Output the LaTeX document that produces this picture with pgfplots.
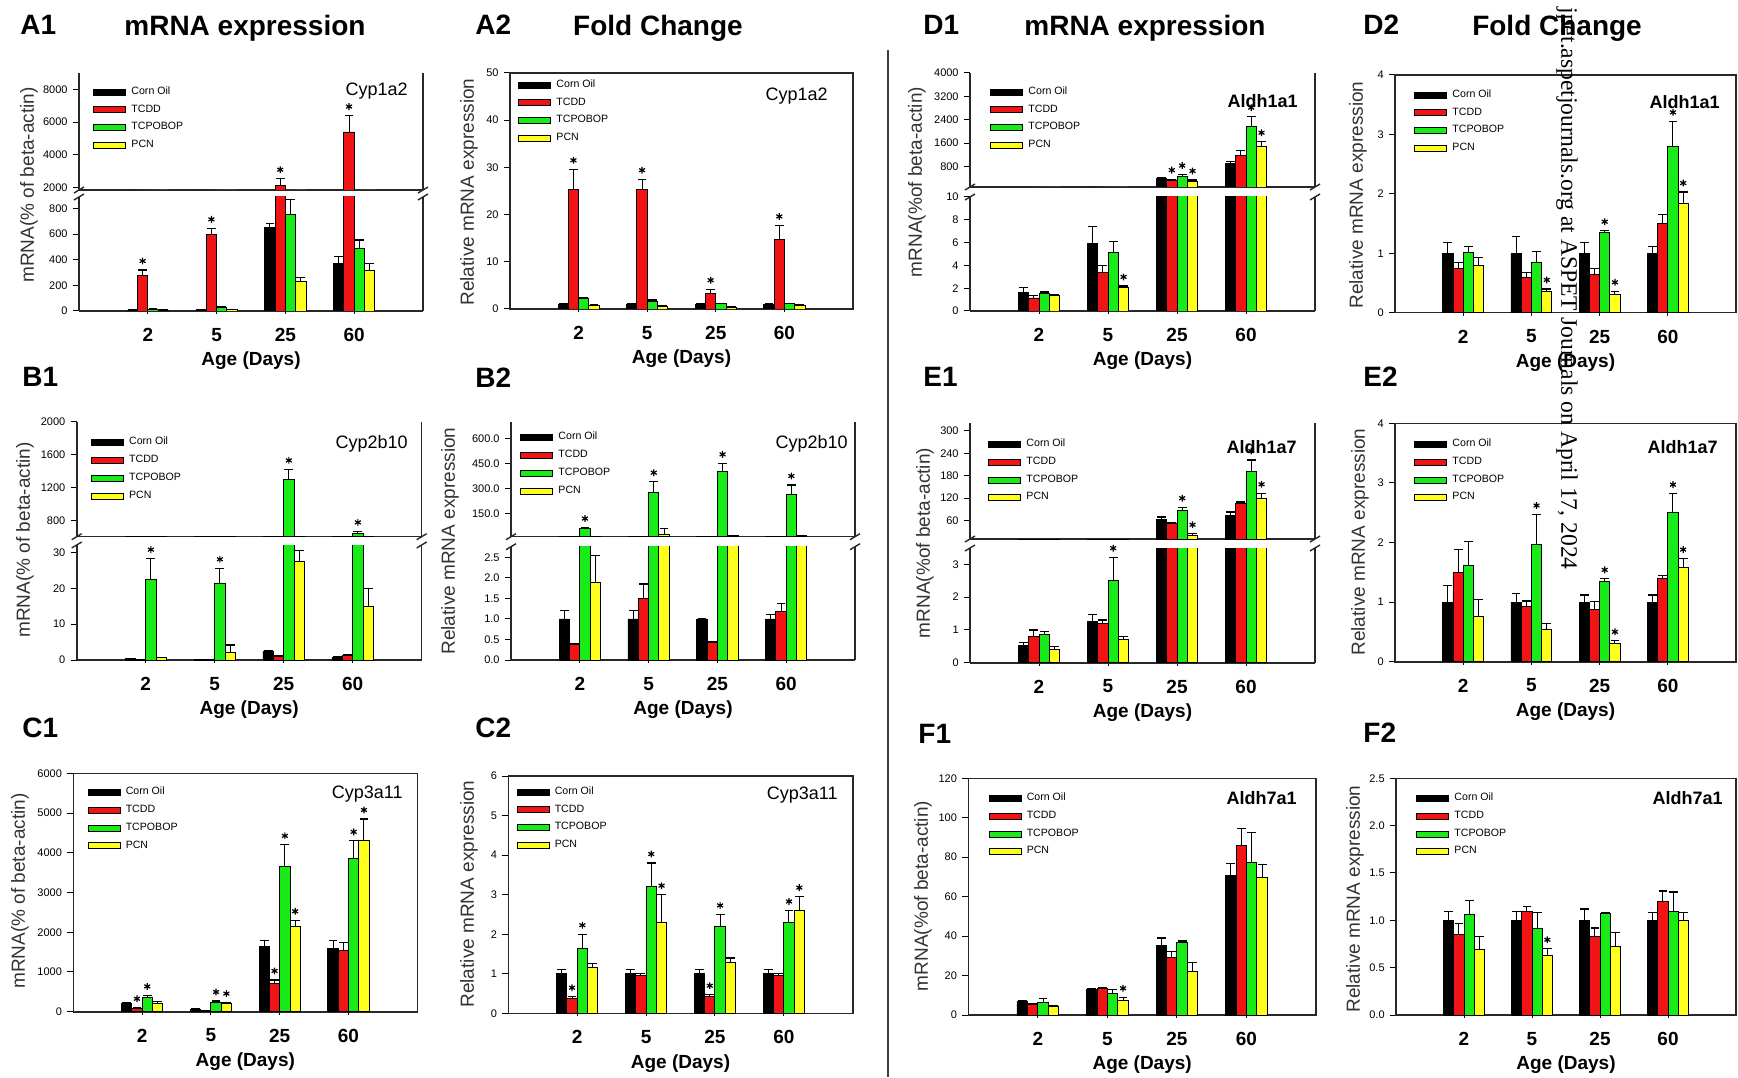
\documentclass[border=0pt]{standalone}
\usepackage{pgfplots}
\pgfplotsset{compat=1.18}
\usepackage{pgfplotstable}
\usepackage{fontspec}
\setmainfont{Liberation Sans}
\newfontfamily\wmfont{Liberation Serif}

\definecolor{bRed}{RGB}{240,20,20}
\definecolor{bGreen}{RGB}{25,235,25}
\definecolor{bYellow}{RGB}{255,255,30}
\definecolor{frm}{RGB}{40,40,40}

\pgfplotsset{
  /pgf/number format/assume math mode=true,
  /pgf/number format/1000 sep={},
  panel/.style={
    scale only axis, anchor=south west,
    xmin=0, xmax=5,
    xtick={1,2,3,4}, xticklabels={2,5,25,60},
    xtick pos=bottom, ytick pos=left,
    xtick align=center, ytick align=outside,
    major tick length=3pt,
    axis line style={line width=0.8pt, frm},
    tick style={black, line width=0.5pt},
    yticklabel style={font=\fontsize{5.5}{6}\selectfont, inner sep=1pt, xshift=-1.5pt},
    xticklabel style={font=\fontsize{9.5}{10}\selectfont\bfseries, yshift=-3.5pt},
    xlabel={Age (Days)},
    every axis x label/.style={at={(rel axis cs:0.5,0)}, anchor=center, yshift=-25pt, font=\fontsize{9.5}{10}\selectfont\bfseries},
    legend image code/.code={\draw[#1, draw=black, line width=0.4pt] (0pt,-1.5pt) rectangle (16pt,1.5pt); \path (18pt,0pt);},
    legend style={draw=none, fill=none, font=\fontsize{5.3}{6}\selectfont, inner sep=0pt, row sep=2.5pt, nodes={inner sep=0.6pt}, cells={anchor=west}, anchor=north west, at={(rel axis cs:0,1)}},
  },
  upper/.style={panel, xtick=\empty, xlabel={}, axis x line*=top, axis y line*=box, ytick pos=left},
  lower/.style={panel, axis x line*=bottom, axis y line*=box, ytick pos=left},
  leg/.style 2 args={legend entries={Corn Oil,TCDD,TCPOBOP,PCN}, legend style={xshift=#1*0.5pt, yshift=-#2*0.5pt+1pt}},
  bar/.style={ybar, bar width=0.15, draw=black, line width=0.45pt},
  eb/.style={draw=none, no markers, forget plot,
     error bars/y dir=plus, error bars/y explicit,
     error bars/error mark=none,
     error bars/error bar style={draw=black, line width=0.5pt, solid}},
  cap/.style={only marks, mark=-, mark size=2.2pt, forget plot, mark options={black, line width=0.6pt}},
  star/.style={only marks, mark=asterisk, mark size=1.7pt, forget plot, mark options={black, line width=0.6pt, yshift=4.5pt}},
}

\newcommand{\bars}[1]{%
  \addplot[bar, fill=black, bar shift=-0.225] table[x=x, y=co] {#1};
  \addplot[bar, fill=bRed, bar shift=-0.075] table[x=x, y=tc] {#1};
  \addplot[bar, fill=bGreen, bar shift=0.075] table[x=x, y=tp] {#1};
  \addplot[bar, fill=bYellow, bar shift=0.225] table[x=x, y=pc] {#1};
  \addplot[eb] table[x expr=\thisrow{x}-0.225, y=co, y error=coe] {#1};
  \addplot[eb] table[x expr=\thisrow{x}-0.075, y=tc, y error=tce] {#1};
  \addplot[eb] table[x expr=\thisrow{x}+0.075, y=tp, y error=tpe] {#1};
  \addplot[eb] table[x expr=\thisrow{x}+0.225, y=pc, y error=pce] {#1};
  \addplot[cap] table[x expr=\thisrow{x}-0.225, y expr=\thisrow{co}+\thisrow{coe}] {#1};
  \addplot[cap] table[x expr=\thisrow{x}-0.075, y expr=\thisrow{tc}+\thisrow{tce}] {#1};
  \addplot[cap] table[x expr=\thisrow{x}+0.075, y expr=\thisrow{tp}+\thisrow{tpe}] {#1};
  \addplot[cap] table[x expr=\thisrow{x}+0.225, y expr=\thisrow{pc}+\thisrow{pce}] {#1};
}
\newcommand{\brk}[2]{%
 \draw[frm,line width=0.7pt] ([shift={(-2.5pt,-1.5pt)}]#1.south west) -- ([shift={(2.5pt,1.5pt)}]#1.south west);
 \draw[frm,line width=0.7pt] ([shift={(-2.5pt,-1.5pt)}]#2.north west) -- ([shift={(2.5pt,1.5pt)}]#2.north west);
 \draw[frm,line width=0.7pt] ([shift={(-2.5pt,-1.5pt)}]#1.south east) -- ([shift={(2.5pt,1.5pt)}]#1.south east);
 \draw[frm,line width=0.7pt] ([shift={(-2.5pt,-1.5pt)}]#2.north east) -- ([shift={(2.5pt,1.5pt)}]#2.north east);
}

% A1 Cyp1a2 mRNA
\pgfplotstableread{
x co coe tc tce tp tpe pc pce
1 5 2 275 45 15 4 8 3
2 10 3 595 50 30 5 10 3
3 650 30 2150 400 750 120 230 30
4 370 55 5400 1000 485 70 320 50
}\tAa
% A2 Cyp1a2 fold
\pgfplotstableread{
x co coe tc tce tp tpe pc pce
1 1 0.05 25.3 4.3 2.2 0.3 0.8 0.1
2 1 0.05 25.3 2.2 1.7 0.2 0.6 0.1
3 1 0.05 3.2 1.0 1.1 0.1 0.4 0.05
4 1 0.05 14.8 2.9 1.1 0.1 0.8 0.1
}\tAb
% B1 Cyp2b10 mRNA
\pgfplotstableread{
x co coe tc tce tp tpe pc pce
1 0.3 0.1 0.1 0.05 22.5 5.8 0.6 0.2
2 0.1 0.05 0.1 0.05 21.5 4.1 2.0 2.2
3 2.5 0.2 1.0 0.2 1300 120 27.5 3
4 0.8 0.2 1.3 0.2 645 20 15 5
}\tBa
% B2 Cyp2b10 fold
\pgfplotstableread{
x co coe tc tce tp tpe pc pce
1 1.0 0.2 0.37 0.03 60 5 1.9 0.65
2 1.0 0.2 1.5 0.35 274 66 25 35
3 1.0 0.02 0.42 0.02 400 50 15 0
4 1.0 0.1 1.19 0.19 264 56 15 0
}\tBb
% C1 Cyp3a11 mRNA
\pgfplotstableread{
x co coe tc tce tp tpe pc pce
1 200 20 80 20 350 60 220 30
2 60 10 20 5 230 40 200 30
3 1650 150 700 100 3650 550 2150 150
4 1600 200 1550 200 3850 450 4300 550
}\tCa
% C2 Cyp3a11 fold
\pgfplotstableread{
x co coe tc tce tp tpe pc pce
1 1 0.1 0.37 0.05 1.65 0.35 1.15 0.1
2 1 0.1 0.95 0.05 3.2 0.6 2.3 0.7
3 1 0.1 0.42 0.05 2.2 0.3 1.28 0.12
4 1 0.1 0.95 0.05 2.3 0.3 2.6 0.35
}\tCb
% D1 Aldh1a1 mRNA
\pgfplotstableread{
x co coe tc tce tp tpe pc pce
1 1.64 0.4 1.14 0.24 1.52 0.15 1.35 0.1
2 5.96 1.45 3.42 0.6 5.12 1.0 2.05 0.15
3 400 30 340 30 476 50 300 40
4 910 50 1194 150 2186 320 1478 170
}\tDa
% D2 Aldh1a1 fold
\pgfplotstableread{
x co coe tc tce tp tpe pc pce
1 1.0 0.18 0.75 0.1 1.02 0.1 0.8 0.13
2 1.0 0.28 0.6 0.08 0.85 0.18 0.35 0.05
3 1.0 0.18 0.65 0.1 1.35 0.03 0.3 0.06
4 1.0 0.12 1.5 0.15 2.8 0.42 1.83 0.2
}\tDb
% E1 Aldh1a7 mRNA
\pgfplotstableread{
x co coe tc tce tp tpe pc pce
1 0.54 0.08 0.81 0.19 0.85 0.1 0.39 0.1
2 1.27 0.2 1.2 0.1 2.52 0.7 0.71 0.1
3 64 6 53 3 88 8 20 5
4 75 8 106 4 191 31 120 13
}\tEa
% E2 Aldh1a7 fold
\pgfplotstableread{
x co coe tc tce tp tpe pc pce
1 1.0 0.28 1.5 0.38 1.62 0.4 0.76 0.28
2 1.0 0.15 0.93 0.09 1.97 0.5 0.54 0.1
3 1.0 0.12 0.87 0.14 1.34 0.05 0.31 0.04
4 1.0 0.12 1.4 0.05 2.51 0.31 1.58 0.15
}\tEb
% F1 Aldh7a1 mRNA
\pgfplotstableread{
x co coe tc tce tp tpe pc pce
1 6.8 0.5 5.5 0.5 6.5 2 4.5 0.5
2 13 0.5 13.3 0.5 11 2 7.6 1.4
3 35.3 3.7 29.3 2.7 37 0.5 22 4.6
4 70.7 6.1 85.9 8.5 77.5 14.9 69.8 6.7
}\tFa
% F2 Aldh7a1 fold
\pgfplotstableread{
x co coe tc tce tp tpe pc pce
1 1.0 0.09 0.855 0.115 1.06 0.15 0.69 0.14
2 1.0 0.09 1.09 0.06 0.915 0.165 0.63 0.07
3 1.0 0.12 0.83 0.09 1.07 0.01 0.72 0.15
4 1.0 0.08 1.2 0.11 1.09 0.21 1.0 0.08
}\tFb

\begin{document}
\begin{tikzpicture}
\path[use as bounding box] (0,0) rectangle (869pt,538.5pt);

% ---------- A1 ----------
\begin{axis}[upper, name=A1u, at={(39.5pt,443.5pt)}, width=172pt, height=58.5pt,
  ymin=1860, ymax=9000, ytick={2000,4000,6000,8000}, leg={14}{14}]
\bars{\tAa}
\addplot[star] coordinates {(2.925,2550) (3.925,6400)};
\end{axis}
\begin{axis}[lower, name=A1l, at={(39.5pt,383pt)}, width=172pt, height=57pt,
  ymin=0, ymax=890, ytick={0,200,400,600,800}]
\bars{\tAa}
\addplot[star] coordinates {(0.925,320) (1.925,645)};
\end{axis}
\brk{A1u}{A1l}

% ---------- A2 ----------
\begin{axis}[panel, at={(255pt,384pt)}, width=171.5pt, height=118pt,
  ymin=0, ymax=50, ytick={0,10,20,30,40,50}, leg={8}{7}]
\bars{\tAb}
\addplot[star] coordinates {(0.925,29.6) (1.925,27.5) (2.925,4.2) (3.925,17.7)};
\end{axis}

% ---------- D1 ----------
\begin{axis}[upper, name=D1u, at={(485pt,445pt)}, width=172.5pt, height=57pt,
  ymin=100, ymax=4000, ytick={800,1600,2400,3200,4000}, leg={20}{14}]
\bars{\tDa}
\addplot[star] coordinates {(2.925,370) (3.075,526) (3.225,340) (4.075,2506) (4.225,1648)};
\end{axis}
\begin{axis}[lower, name=D1l, at={(485pt,383pt)}, width=172.5pt, height=57pt,
  ymin=0, ymax=10, ytick={0,2,4,6,8,10}]
\bars{\tDa}
\addplot[star] coordinates {(2.225,2.2)};
\end{axis}
\brk{D1u}{D1l}

% ---------- D2 ----------
\begin{axis}[panel, at={(697.5pt,382.15pt)}, width=170.5pt, height=118.85pt,
  ymin=0, ymax=4, ytick={0,1,2,3,4}, leg={19}{15}]
\bars{\tDb}
\addplot[star] coordinates {(2.225,0.4) (3.075,1.38) (3.225,0.36) (4.075,3.22) (4.225,2.03)};
\end{axis}

% ---------- B1 ----------
\begin{axis}[upper, name=B1u, at={(38.35pt,270.15pt)}, width=172.5pt, height=57.5pt,
  ymin=600, ymax=2000, ytick={800,1200,1600,2000}, leg={14}{16}]
\bars{\tBa}
\addplot[star] coordinates {(3.075,1420) (4.075,665)};
\end{axis}
\begin{axis}[lower, name=B1l, at={(38.35pt,208.5pt)}, width=172.5pt, height=57.5pt,
  ymin=0, ymax=32.1, ytick={0,10,20,30}]
\bars{\tBa}
\addplot[star] coordinates {(1.075,28.3) (2.075,25.6)};
\end{axis}
\brk{B1u}{B1l}

% ---------- B2 ----------
\begin{axis}[upper, name=B2u, at={(255.5pt,270.15pt)}, width=172pt, height=57.5pt,
  ymin=10, ymax=700, ytick={150,300,450,600},
  yticklabel style={/pgf/number format/.cd, fixed, fixed zerofill, precision=1}, leg={9}{11}]
\bars{\tBb}
\addplot[star] coordinates {(1.075,65) (2.075,340) (3.075,450) (4.075,320)};
\end{axis}
\begin{axis}[lower, name=B2l, at={(255.5pt,208.5pt)}, width=172pt, height=56.65pt,
  ymin=0, ymax=2.76, ytick={0,0.5,1,1.5,2,2.5},
  yticklabel style={/pgf/number format/.cd, fixed, fixed zerofill, precision=1}]
\bars{\tBb}
\end{axis}
\brk{B2u}{B2l}

% ---------- E1 ----------
\begin{axis}[upper, name=E1u, at={(485pt,269pt)}, width=172.5pt, height=57.85pt,
  ymin=11, ymax=320, ytick={60,120,180,240,300}, leg={18}{16}]
\bars{\tEa}
\addplot[star] coordinates {(3.075,96) (3.225,25) (4.075,222) (4.225,133)};
\end{axis}
\begin{axis}[lower, name=E1l, at={(485pt,207.15pt)}, width=172.5pt, height=57.35pt,
  ymin=0, ymax=3.5, ytick={0,1,2,3}]
\bars{\tEa}
\addplot[star] coordinates {(2.075,3.22)};
\end{axis}
\brk{E1u}{E1l}

% ---------- E2 ----------
\begin{axis}[panel, at={(697.5pt,207.65pt)}, width=170.5pt, height=119.2pt,
  ymin=0, ymax=4, ytick={0,1,2,3,4}, leg={19}{16}]
\bars{\tEb}
\addplot[star] coordinates {(2.075,2.47) (3.075,1.39) (3.225,0.35) (4.075,2.82) (4.225,1.73)};
\end{axis}

% ---------- C1 ----------
\begin{axis}[panel, at={(36.65pt,32.65pt)}, width=172pt, height=119.2pt,
  ymin=0, ymax=6000, ytick={0,1000,2000,3000,4000,5000,6000}, leg={14}{14}]
\bars{\tCa}
\addplot[star] coordinates {(0.925,100) (1.075,410) (2.075,270) (2.225,230) (2.925,800) (3.075,4200) (3.225,2300) (4.075,4300) (4.225,4850)};
\end{axis}

% ---------- C2 ----------
\begin{axis}[panel, at={(254.15pt,31.85pt)}, width=172.2pt, height=118.65pt,
  ymin=0, ymax=6, ytick={0,1,2,3,4,5,6}, leg={8}{11}]
\bars{\tCb}
\addplot[star] coordinates {(0.925,0.42) (1.075,2.0) (2.075,3.8) (2.225,3.0) (2.925,0.47) (3.075,2.5) (4.075,2.6) (4.225,2.95)};
\end{axis}

% ---------- F1 ----------
\begin{axis}[panel, at={(484.15pt,31pt)}, width=173.85pt, height=118.35pt,
  ymin=0, ymax=120, ytick={0,20,40,60,80,100,120}, leg={20}{15}]
\bars{\tFa}
\addplot[star] coordinates {(2.225,9.0)};
\end{axis}

% ---------- F2 ----------
\begin{axis}[panel, at={(698pt,31pt)}, width=170pt, height=118.35pt,
  ymin=0, ymax=2.5, ytick={0,0.5,1,1.5,2,2.5},
  yticklabel style={/pgf/number format/.cd, fixed, fixed zerofill, precision=1}, leg={20}{15}]
\bars{\tFb}
\addplot[star] coordinates {(2.225,0.70)};
\end{axis}

% ---------- texts (pixel coordinates of the reference) ----------
\begin{scope}[x=0.5pt, y=-0.5pt, yshift=538.5pt]
\tikzset{plab/.style={anchor=base west, inner sep=0pt, font=\fontsize{14}{16}\selectfont\bfseries},
         ptit/.style={anchor=base, inner sep=0pt, font=\fontsize{14}{16}\selectfont\bfseries},
         ylab/.style={rotate=90, anchor=center, inner sep=0pt, text=black!80, font=\fontsize{9.5}{11}\selectfont},
         gene/.style={anchor=north east, inner sep=0pt, font=\fontsize{9}{10}\selectfont},
         geneb/.style={anchor=north east, inner sep=0pt, font=\fontsize{9}{10}\selectfont\bfseries}}
\node[plab] at (20,35) {A1};
\node[ptit] at (245,36) {mRNA expression};
\node[plab] at (475,35) {A2};
\node[ptit] at (658,36) {Fold Change};
\node[plab] at (923,35) {D1};
\node[ptit] at (1145,36) {mRNA expression};
\node[plab] at (1363,35) {D2};
\node[ptit] at (1557,36) {Fold Change};
\node[plab] at (22,387) {B1};
\node[plab] at (475,388) {B2};
\node[plab] at (923,387) {E1};
\node[plab] at (1363,387) {E2};
\node[plab] at (22,737) {C1};
\node[plab] at (475,737) {C2};
\node[plab] at (918,743) {F1};
\node[plab] at (1363,742) {F2};

\node[ylab] at (29,185) {mRNA(\% of beta-actin)};
\node[ylab] at (25,540) {mRNA(\% of beta-actin)};
\node[ylab] at (20,891) {mRNA(\% of beta-actin)};
\node[ylab] at (469,192) {Relative mRNA expression};
\node[ylab] at (450,541) {Relative mRNA expression};
\node[ylab] at (469,894) {Relative mRNA expression};
\node[ylab] at (917,182) {mRNA(\%of beta-actin)};
\node[ylab] at (925,543) {mRNA(\%of beta-actin)};
\node[ylab] at (923,896) {mRNA(\%of beta-actin)};
\node[ylab] at (1358,195) {Relative mRNA expression};
\node[ylab] at (1360,542) {Relative mRNA expression};
\node[ylab] at (1355,899) {Relative mRNA expression};

\node[gene] at (408,83) {Cyp1a2};
\node[gene] at (828,88) {Cyp1a2};
\node[gene] at (408,435) {Cyp2b10};
\node[gene] at (848,435) {Cyp2b10};
\node[gene] at (403,786) {Cyp3a11};
\node[gene] at (838,787) {Cyp3a11};
\node[geneb] at (1298,94) {Aldh1a1};
\node[geneb] at (1720,95) {Aldh1a1};
\node[geneb] at (1297,440) {Aldh1a7};
\node[geneb] at (1718,440) {Aldh1a7};
\node[geneb] at (1297,791) {Aldh7a1};
\node[geneb] at (1723,791) {Aldh7a1};

\draw[black!75, line width=1pt] (888,50) -- (888,1077);
\node[rotate=-90, anchor=east, inner sep=0pt, font=\wmfont\fontsize{11.8}{14}\selectfont] at (1567,570) {jpet.aspetjournals.org at ASPET Journals on April 17, 2024};
\end{scope}
\end{tikzpicture}
\end{document}
